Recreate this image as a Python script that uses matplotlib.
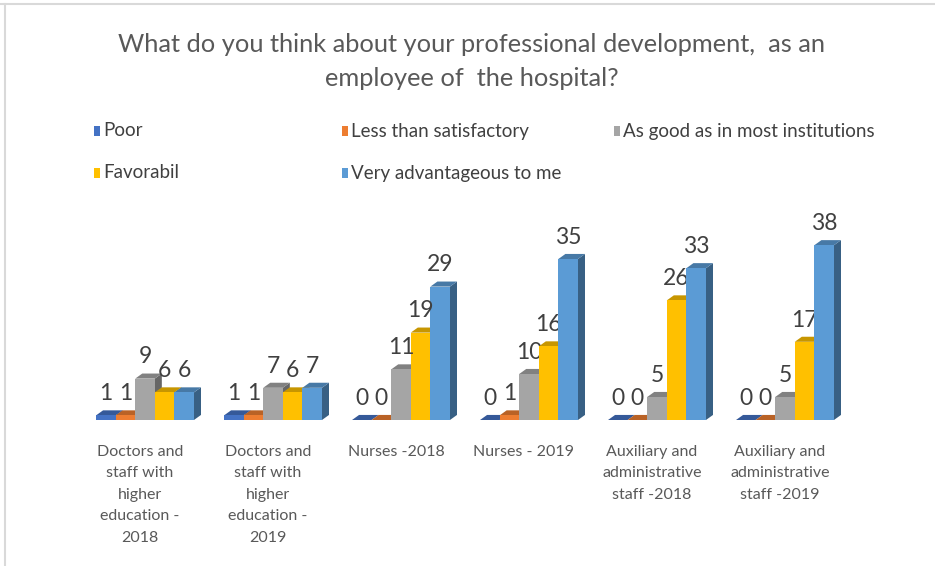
import matplotlib.pyplot as plt
from matplotlib.patches import Polygon, Rectangle
from matplotlib.lines import Line2D
from matplotlib.colors import to_rgb

categories = [
    "Doctors and\nstaff with\nhigher\neducation -\n2018",
    "Doctors and\nstaff with\nhigher\neducation -\n2019",
    "Nurses -2018",
    "Nurses - 2019",
    "Auxiliary and\nadministrative\nstaff -2018",
    "Auxiliary and\nadministrative\nstaff -2019",
]
series = ["Poor", "Less than satisfactory", "As good as in most institutions",
          "Favorabil", "Very advantageous to me"]
poor = [1, 1, 0, 0, 0, 0]
less_than = [1, 1, 0, 1, 0, 0]
as_good = [9, 7, 11, 10, 5, 5]
favorabil = [6, 6, 19, 16, 26, 17]
very_adv = [6, 7, 29, 35, 33, 38]
values = [poor, less_than, as_good, favorabil, very_adv]
colors = ["#4472C4", "#ED7D31", "#A5A5A5", "#FFC000", "#5B9BD5"]

FONT = ["Lato", "DejaVu Sans"]


def shade(c, f):
    r, g, b = to_rgb(c)
    return (r * f, g * f, b * f)


fig = plt.figure(figsize=(9.35, 5.66), dpi=100)
ax = fig.add_axes([81 / 935, 146 / 566, 768 / 935, 190 / 566])
ax.set_xlim(-0.5, 5.5)
ax.set_ylim(0, 190 / 4.6)
ax.axis("off")

width = 0.153
dx = 0.055   # depth offset, x
dy = 1.1     # depth offset, y

z = 2
for i in range(len(categories)):
    for s in range(len(series)):
        v = values[s][i]
        x0 = i + (s - 2) * width - width / 2
        x1 = x0 + width
        side = Polygon([(x1, 0), (x1 + dx, dy), (x1 + dx, v + dy), (x1, v)],
                       closed=True, facecolor=shade(colors[s], 0.62),
                       edgecolor="none", zorder=z)
        top = Polygon([(x0, v), (x0 + dx, v + dy), (x1 + dx, v + dy), (x1, v)],
                      closed=True, facecolor=shade(colors[s], 0.78),
                      edgecolor="none", zorder=z)
        ax.add_patch(side)
        ax.add_patch(top)
        ax.bar(x0 + width / 2, v, width=width, color=colors[s],
               edgecolor="none", zorder=z + 0.5)
        ax.annotate(str(v), (x0 + width / 2, v), xytext=(0, 8),
                    textcoords="offset points", ha="center", va="bottom",
                    fontsize=16.5, color="#404040", family=FONT, zorder=20)
        z += 1
    ax.text(i - 0.04, -5.4, categories[i], ha="center", va="top", fontsize=11.5,
            color="#595959", family=FONT, linespacing=1.68)

fig.text(472 / 935, 1 - 45 / 566, "What do you think about your professional development,  as an",
         ha="center", va="center", fontsize=18.3, color="#595959", family=FONT)
fig.text(472 / 935, 1 - 79 / 566, "employee of  the hospital?",
         ha="center", va="center", fontsize=18.3, color="#595959", family=FONT)

# legend laid out in two rows of three columns
leg_x = [97, 345, 617]
leg_y = [131, 173]
for k, name in enumerate(series):
    px = leg_x[k % 3] / 935
    py = 1 - leg_y[k // 3] / 566
    fig.add_artist(Rectangle((px - 3 / 935, py - 5 / 566), 6 / 935, 10 / 566,
                             facecolor=colors[k], edgecolor="none"))
    fig.text(px + 6 / 935, py, name, ha="left", va="center", fontsize=13.5,
             color="#404040", family=FONT)

# outer frame lines on top and left
fig.add_artist(Line2D([0, 1], [1 - 4 / 566, 1 - 4 / 566], color="#D9D9D9", lw=1.5))
fig.add_artist(Line2D([5 / 935, 5 / 935], [0, 1 - 4 / 566], color="#D9D9D9", lw=1.5))

fig.savefig("out.png", dpi=100)
